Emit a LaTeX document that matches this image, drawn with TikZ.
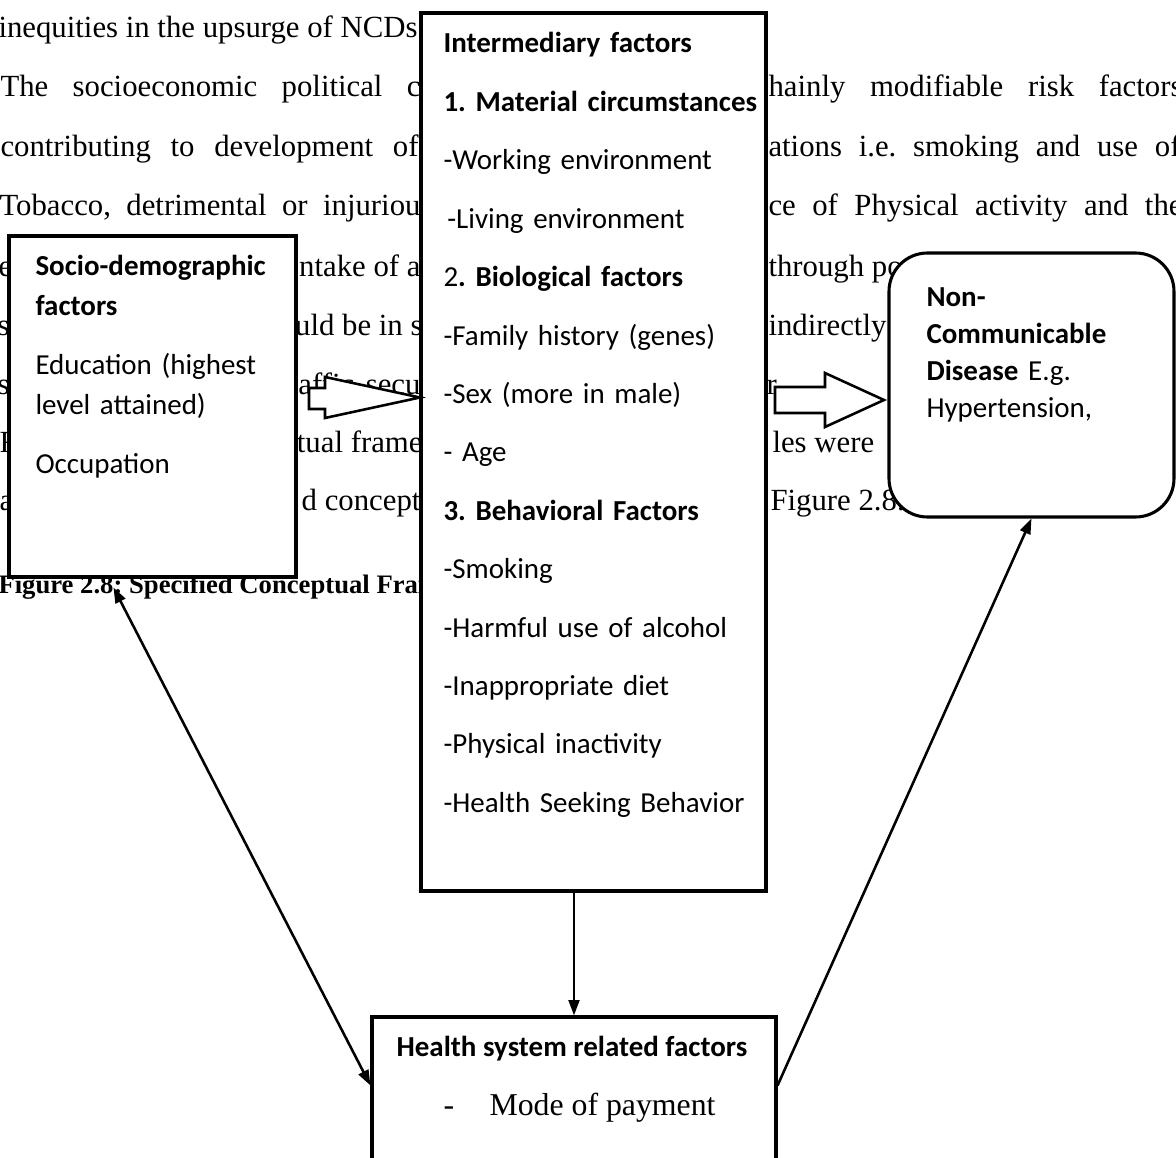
\documentclass[tikz,border=0pt]{standalone}
\usepackage{fontspec}
\setmainfont{Carlito}
\newfontfamily\tnr{Liberation Serif}
\usetikzlibrary{arrows.meta}
\newdimen\pxu
\pxu=0.39pt
\frenchspacing

\begin{document}
\begin{tikzpicture}[x=0.39pt,y=-0.39pt,
		bgtext/.style={anchor=base west,inner sep=0pt,font=\tnr\fontsize{12}{14}\selectfont},
		factorbox/.style={draw,line width=1.2pt,fill=white,inner sep=0pt},
		boxtext/.style={anchor=base west,inner sep=0pt,align=left},
		blockarrow/.style={draw,line width=1pt,fill=white},
		>={Triangle[length=6pt,width=4.2pt]}]
			\useasboundingbox (0,0) rectangle (1176,1158);
			
			% page text behind the figure
			
			\node[bgtext] (l1) at (-2,38) {inequities in the upsurge of NCDs.};
			\node[bgtext] (l2a) at (0,97) {\makebox[420\pxu][s]{The socioeconomic political c}};
			\node[bgtext] (l3a) at (0,157) {\makebox[418\pxu][s]{contributing to development of}};
			\node[bgtext] (l4a) at (-1,216) {\makebox[421\pxu][s]{Tobacco, detrimental or injuriou}};
			\node[bgtext] (l5a) at (-2,277) {e};
			\node[bgtext,anchor=base east] (l5b) at (421,277) {ntake of a};
			\node[bgtext] (l6a) at (-3,336) {s};
			\node[bgtext,anchor=base east] (l6b) at (423,336) {uld be in s};
			\node[bgtext] (l7a) at (-3,395) {s};
			\node[bgtext,anchor=base east] (l7b) at (421,395) {\makebox[122\pxu][s]{affic secu}};
			\node[bgtext] (l8a) at (-1,453) {F};
			\node[bgtext,anchor=base east] (l8b) at (423,453) {tual frame};
			\node[bgtext] (l9a) at (-1,511) {a};
			\node[bgtext,anchor=base east] (l9b) at (421,511) {d concept};
			\node[bgtext,font=\tnr\bfseries\fontsize{10.4}{12}\selectfont] (cap) at (-2,594) {Figure 2.8: Specified Conceptual Framework};
			
			\node[bgtext] (r2) at (768,97) {\makebox[414\pxu][s]{hainly modifiable risk factors}};
			\node[bgtext] (r3) at (768,157) {\makebox[412\pxu][s]{ations i.e. smoking and use of}};
			\node[bgtext] (r4) at (768,216) {\makebox[414\pxu][s]{ce of Physical activity and the}};
			\node[bgtext] (r5) at (768,277) {through po};
			\node[bgtext] (r6) at (768,336) {indirectly};
			\node[bgtext] (r7) at (766,395) {r.};
			\node[bgtext] (r8) at (772,453) {les were};
			\node[bgtext] (r9) at (770,511) {Figure 2.8.};
			
			% boxes
			
			\node[factorbox,minimum width=345*0.39pt,minimum height=878*0.39pt] (inter) at (593.5,452) {};
			\node[factorbox,minimum width=287*0.39pt,minimum height=341*0.39pt] (sd) at (152.5,406.5) {};
			\node[factorbox,rounded corners=15pt,minimum width=285*0.39pt,minimum height=264*0.39pt] (ncd) at (1031.5,385) {};
			\node[factorbox,minimum width=404*0.39pt,minimum height=183*0.39pt] (hs) at (574,1108.5) {};
			
			\node[boxtext,text width=130pt,font=\fontsize{11.3}{22.78}\selectfont] (intertext) at (443,53) {%
				\textbf{Intermediary factors}\\
				\textbf{1. Material circumstances}\\
				-Working environment\\
				\hspace*{1.5pt}-Living environment\\
				2\textbf{. Biological factors}\\
				-Family history (genes)\\
				-Sex (more in male)\\
				- Age\\
				\textbf{3. Behavioral Factors}\\
				-Smoking\\
				-Harmful use of alcohol\\
				-Inappropriate diet\\
				-Physical inactivity\\
				-Health Seeking Behavior};
			\node[boxtext,text width=100pt,font=\fontsize{11.3}{15.6}\selectfont] (sdtext) at (35,276) {%
				\textbf{Socio-demographic}\\
				\textbf{factors}\\[7.4pt]
				Education (highest\\
				level attained)\\[7.4pt]
				Occupation};
			\node[boxtext,text width=95pt,font=\fontsize{11.3}{14.4}\selectfont] (ncdtext) at (926,307) {%
				\textbf{Non-}\\
				\textbf{Communicable}\\
				\textbf{Disease} E.g.\\
				Hypertension,};
			\node[anchor=base,inner sep=0pt,font=\bfseries\fontsize{11.3}{14}\selectfont] (hstitle) at (572,1057) {Health system related factors};
			\node[bgtext,font=\tnr\fontsize{12.4}{14}\selectfont] (hsdash) at (443,1116) {-};
			\node[bgtext,font=\tnr\fontsize{12.4}{14}\selectfont] (hsitem) at (489,1116) {Mode of payment};
			
			% block arrows
			
			\draw[blockarrow] (309,388) -- (325,388) -- (325,377) -- (420,397.5) -- (325,418) -- (325,409) -- (309,409) -- cycle;
			\draw[blockarrow] (775,387) -- (825,387) -- (825,373) -- (884,400) -- (825,427) -- (825,413) -- (775,413) -- cycle;
			
			% links
			
			\draw[->,line width=1pt] (inter.south -| hs.north) -- (hs.north);
			\draw[<->,line width=1pt] ([shift={(106,9)}]sd.south west) -- ([shift={(0,-23)}]hs.west);
			\draw[->,line width=1pt] ([shift={(0,-23)}]hs.east) -- (ncd.south);
		\end{tikzpicture}
\end{document}
